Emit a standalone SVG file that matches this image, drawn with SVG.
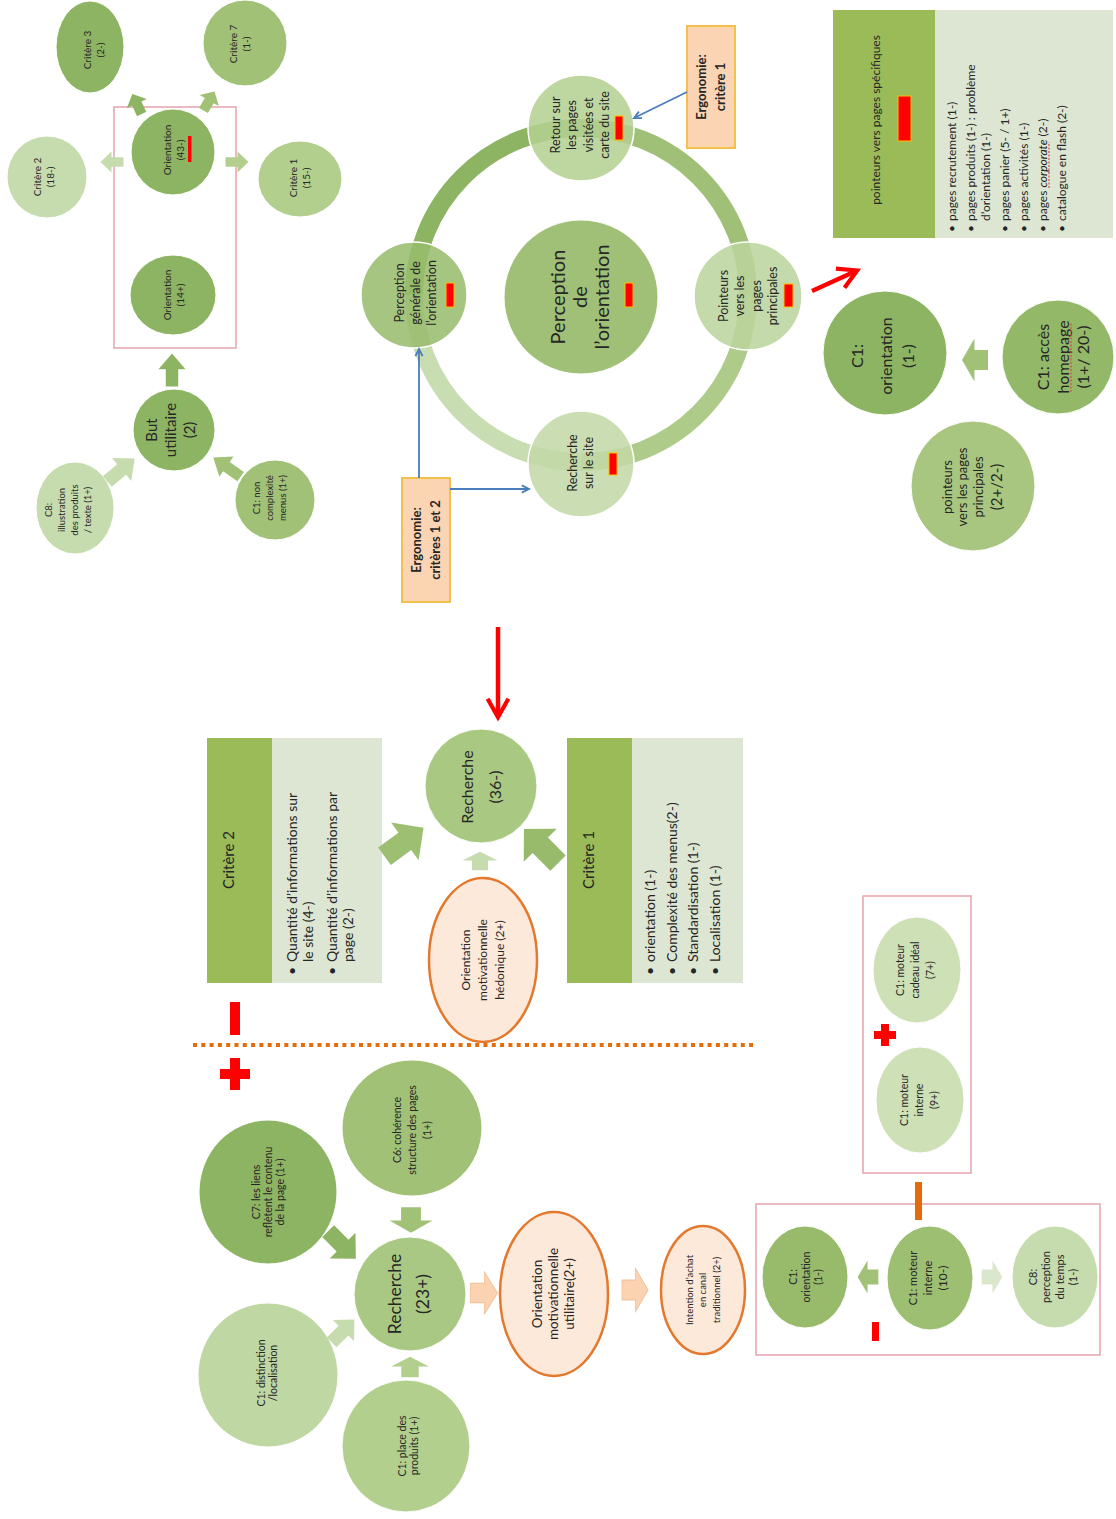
<svg xmlns="http://www.w3.org/2000/svg" width="1116" height="1519" viewBox="0 0 1116 1519">
<style>
.t{font-family:Lato,"Liberation Sans","DejaVu Sans",sans-serif;fill:#262626}
.b{font-weight:bold}
.dk{fill:#8db462}
.md{fill:#a0c176}
.lt{fill:#b3cf8e}
.pa{fill:#c7dcae}
.node{stroke:#ffffff;stroke-width:1}
.rn{stroke:#ffffff;stroke-width:1.5;fill-opacity:0.86}
.ring{fill:none;stroke-width:18}
.ergo{fill:#fbd4b4;stroke:#f3c04a;stroke-width:2}
.moti{fill:#fde9d9;stroke:#e3792f;stroke-width:2.5}
.hdr{fill:#9bbb59}
.lst{fill:#dde6d2}
.frame{fill:none;stroke:#e8a3ad;stroke-width:1.5}
.redbar{fill:#ff0000;stroke:#ffc000;stroke-width:1}
.red{fill:#ff0000}
.squig{stroke:#e04848;stroke-width:1.2;stroke-dasharray:2 1.5;fill:none}
.blue{stroke:#4a7ebb;stroke-width:1.8;fill:none}
.reda{stroke:#ff0000;stroke-width:4.5;fill:none}
.peach{fill:#fbd3b3;stroke:#f4c49b;stroke-width:0.8}
</style>
<defs>
<path id="ba" d="M-11.5,-6 H0.5 V-13 L11.5,0 L0.5,13 V6 H-11.5 Z"/>
<marker id="mb" viewBox="0 0 10 10" refX="9" refY="5" markerWidth="5" markerHeight="5" orient="auto" overflow="visible"><path d="M1,1 L9,5 L1,9" fill="none" stroke="#4a7ebb" stroke-width="2"/></marker>
<marker id="mr" viewBox="0 0 10 10" refX="8.5" refY="5" markerWidth="5.5" markerHeight="5.5" orient="auto" overflow="visible"><path d="M1.5,0.8 L9,5 L1.5,9.2" fill="none" stroke="#ff0000" stroke-width="1.7"/></marker>
</defs>
<rect width="1116" height="1519" fill="#ffffff"/>

<g id="ring">
<path class="ring" stroke="#8db462" d="M414,295 A167,167 0 0 1 581,128"/>
<path class="ring" stroke="#a0c077" d="M581,128 A167,167 0 0 1 748,295"/>
<path class="ring" stroke="#aecb8a" d="M748,295 A167,167 0 0 1 581,462"/>
<path class="ring" stroke="#c9ddb2" d="M581,462 A167,167 0 0 1 414,295"/>
</g>

<g id="frames">
<rect class="frame" x="114" y="107" width="122" height="241"/>
<rect class="frame" x="756" y="1204" width="344" height="151"/>
<rect class="frame" x="863" y="896" width="108" height="277"/>
</g>

<!-- top-left cluster -->
<g id="n-critere3"><ellipse class="dk node" cx="90" cy="47" rx="34" ry="46"/>
<text class="t" font-size="10" text-anchor="middle" transform="translate(94,50) rotate(-90)"><tspan x="0" y="-3">Critère 3</tspan><tspan x="0" y="10">(2-)</tspan></text></g>
<g id="n-critere7"><ellipse class="md node" cx="245" cy="43" rx="42" ry="43"/>
<text class="t" font-size="10" text-anchor="middle" transform="translate(240,44) rotate(-90)"><tspan x="0" y="-3">Critère 7</tspan><tspan x="0" y="10">(1-)</tspan></text></g>
<g id="n-critere2"><ellipse class="pa node" cx="47" cy="177" rx="40" ry="41"/>
<text class="t" font-size="10" text-anchor="middle" transform="translate(44,177) rotate(-90)"><tspan x="0" y="-3">Critère 2</tspan><tspan x="0" y="10">(18-)</tspan></text></g>
<g id="n-orient43"><ellipse class="dk node" cx="173" cy="152" rx="42" ry="43"/>
<text class="t" font-size="10" text-anchor="middle" transform="translate(174,150) rotate(-90)"><tspan x="0" y="-3">Orientation</tspan><tspan x="0" y="10">(43-)</tspan></text>
<rect class="red" x="188" y="136" width="3.5" height="26"/></g>
<g id="n-critere1"><ellipse class="lt node" cx="300" cy="179" rx="42" ry="38"/>
<text class="t" font-size="10" text-anchor="middle" transform="translate(300,178) rotate(-90)"><tspan x="0" y="-3">Critère 1</tspan><tspan x="0" y="10">(15-)</tspan></text></g>
<g id="n-orient14"><ellipse class="dk node" cx="173" cy="295" rx="43" ry="40"/>
<text class="t" font-size="10" text-anchor="middle" transform="translate(174,295) rotate(-90)"><tspan x="0" y="-3">Orientation</tspan><tspan x="0" y="10">(14+)</tspan></text></g>
<g id="n-but"><ellipse class="dk node" cx="174" cy="430" rx="41" ry="41"/>
<text class="t" font-size="15" text-anchor="middle" transform="translate(171,430) rotate(-90)"><tspan x="0" y="-13.75">But</tspan><tspan x="0" y="5.25">utilitaire</tspan><tspan x="0" y="24.25">(2)</tspan></text></g>
<g id="n-c8illu"><ellipse class="pa node" cx="75" cy="508" rx="39" ry="46"/>
<text class="t" font-size="9.5" text-anchor="middle" transform="translate(68,510) rotate(-90)"><tspan x="0" y="-16.2">C8:</tspan><tspan x="0" y="-3.2">illustration</tspan><tspan x="0" y="9.8">des produits</tspan><tspan x="0" y="22.8">/ texte (1+)</tspan></text></g>
<g id="n-c1menus"><ellipse class="md node" cx="275" cy="500" rx="40" ry="40"/>
<text class="t" font-size="9.5" text-anchor="middle" transform="translate(270,498) rotate(-90)"><tspan x="0" y="-9.7">C1: non</tspan><tspan x="0" y="3.3">complexité</tspan><tspan x="0" y="16.3">menus (1+)</tspan></text></g>

<!-- ring nodes -->
<g id="n-percgen"><circle class="rn" fill="#97bb6c" cx="414" cy="295" r="53"/>
<text class="t" font-size="12.5" text-anchor="middle" transform="translate(416,293) rotate(-90)"><tspan x="0" y="-11.6">Perception</tspan><tspan x="0" y="4.4">générale de</tspan><tspan x="0" y="20.4">l’orientation</tspan></text>
<rect class="redbar" x="446" y="283" width="8" height="24"/></g>
<g id="n-retour"><circle class="rn" fill="#b3cf90" cx="581" cy="128" r="53"/>
<text class="t" font-size="12.5" text-anchor="middle" transform="translate(580,125) rotate(-90)"><tspan x="0" y="-20.4">Retour sur</tspan><tspan x="0" y="-3.9">les pages</tspan><tspan x="0" y="12.6">visitées et</tspan><tspan x="0" y="29.1">carte du site</tspan></text>
<rect class="redbar" x="615" y="116" width="8" height="24"/></g>
<g id="n-pointeurs"><circle class="rn" fill="#bad49c" cx="748" cy="296" r="54"/>
<text class="t" font-size="12.5" text-anchor="middle" transform="translate(748,296) rotate(-90)"><tspan x="0" y="-20.4">Pointeurs</tspan><tspan x="0" y="-3.9">vers les</tspan><tspan x="0" y="12.6">pages</tspan><tspan x="0" y="29.1">principales</tspan></text>
<rect class="redbar" x="784" y="284" width="9" height="23"/></g>
<g id="n-rechsite"><circle class="rn" fill="#c3d9a6" cx="581" cy="464" r="53"/>
<text class="t" font-size="12.5" text-anchor="middle" transform="translate(581,463) rotate(-90)"><tspan x="0" y="-3.6">Recherche</tspan><tspan x="0" y="12.4">sur le site</tspan></text>
<rect class="redbar" x="609" y="453" width="8" height="22"/></g>
<g id="n-percorient"><circle class="node" fill="#9fc076" cx="581" cy="297" r="77"/>
<text class="t" font-size="20" text-anchor="middle" transform="translate(580,297) rotate(-90)"><tspan x="0" y="-15">Perception</tspan><tspan x="0" y="7">de</tspan><tspan x="0" y="29">l’orientation</tspan></text>
<rect class="redbar" x="625" y="283" width="8" height="24"/></g>

<g id="n-ergo1"><rect class="ergo" x="687" y="26" width="48" height="122"/>
<text class="t b" font-size="13" text-anchor="middle" transform="translate(711,87) rotate(-90)"><tspan x="0" y="-4.95">Ergonomie:</tspan><tspan x="0" y="14.05">critère 1</tspan></text></g>
<g id="n-ergo12"><rect class="ergo" x="402" y="478" width="48" height="124"/>
<text class="t b" font-size="13" text-anchor="middle" transform="translate(426,540) rotate(-90)"><tspan x="0" y="-4.95">Ergonomie:</tspan><tspan x="0" y="14.05">critères 1 et 2</tspan></text></g>

<!-- top right -->
<g id="n-pointspec"><rect class="hdr" x="833" y="10" width="102" height="228"/><rect class="lst" x="935" y="10" width="178" height="228"/>
<text class="t" font-size="12" text-anchor="middle" transform="translate(876,120) rotate(-90)"><tspan x="0" y="4.2">pointeurs vers pages spécifiques</tspan></text>
<rect class="redbar" x="898" y="96" width="13" height="45"/>
<g class="t" font-size="12" transform="translate(952,221) rotate(-90)">
<text x="-11" y="4.2">•</text><text x="0" y="4.2">pages recrutement  (1-)</text>
<text x="-11" y="23.2">•</text><text x="0" y="23.2">pages produits  (1-) : problème</text>
<text x="0" y="38.2">d’orientation (1-)</text>
<text x="-11" y="57.2">•</text><text x="0" y="57.2">pages panier (5- / 1+)</text>
<text x="-11" y="76.2">•</text><text x="0" y="76.2">pages activités  (1-)</text>
<text x="-11" y="95.2">•</text><text x="0" y="95.2">pages <tspan font-style="italic">corporate</tspan> (2-)</text>
<text x="-11" y="114.2">•</text><text x="0" y="114.2">catalogue en flash (2-)</text>
</g>
<line class="squig" x1="1049" y1="188" x2="1049" y2="142"/></g>
<g id="n-c1orient"><ellipse class="dk node" cx="885" cy="353" rx="62" ry="62"/>
<text class="t" font-size="16" text-anchor="middle" transform="translate(884,356) rotate(-90)"><tspan x="0" y="-21.4">C1:</tspan><tspan x="0" y="7.6">orientation</tspan><tspan x="0" y="29.6">(1-)</tspan></text></g>
<g id="n-c1home"><ellipse class="node" fill="#92b868" cx="1058" cy="357" rx="56" ry="57"/>
<text class="t" font-size="16" text-anchor="middle" transform="translate(1063,357) rotate(-90)"><tspan x="0" y="-14.4">C1: accès</tspan><tspan x="0" y="5.6">homepage</tspan><tspan x="0" y="25.6">(1+/ 20-)</tspan></text>
<line class="squig" x1="1071" y1="392" x2="1071" y2="322"/></g>
<g id="n-pointprinc"><ellipse class="node" fill="#a8c680" cx="973" cy="486" rx="62" ry="65"/>
<text class="t" font-size="13" text-anchor="middle" transform="translate(972,487) rotate(-90)"><tspan x="0" y="-20.5">pointeurs</tspan><tspan x="0" y="-5.5">vers les pages</tspan><tspan x="0" y="10.5">principales</tspan><tspan x="0" y="30.3" font-size="15">(2+/2-)</tspan></text></g>

<!-- middle -->
<g id="n-crit2box"><rect class="hdr" x="207" y="738" width="65" height="245"/><rect class="lst" x="272" y="738" width="110" height="245"/>
<text class="t" font-size="15" text-anchor="middle" transform="translate(229,860) rotate(-90)"><tspan x="0" y="5.25">Critère 2</tspan></text>
<g class="t" font-size="14" transform="translate(292,962) rotate(-90)">
<text x="-13" y="4.9">•</text><text x="0" y="4.9">Quantité d’informations  sur</text>
<text x="0" y="20.9">le site  (4-)</text>
<text x="-13" y="44.9">•</text><text x="0" y="44.9">Quantité d’informations par</text>
<text x="0" y="60.9">page (2-)</text>
</g></g>
<g id="n-crit1box"><rect class="hdr" x="567" y="738" width="65" height="245"/><rect class="lst" x="632" y="738" width="111" height="245"/>
<text class="t" font-size="15" text-anchor="middle" transform="translate(589,860) rotate(-90)"><tspan x="0" y="5.25">Critère 1</tspan></text>
<g class="t" font-size="14" transform="translate(650,962) rotate(-90)">
<text x="-13" y="4.9">•</text><text x="0" y="4.9">orientation (1-)</text>
<text x="-13" y="26.9">•</text><text x="0" y="26.9">Complexité des menus(2-)</text>
<text x="-13" y="47.9">•</text><text x="0" y="47.9">Standardisation (1-)</text>
<text x="-13" y="69.9">•</text><text x="0" y="69.9">Localisation (1-)</text>
</g></g>
<g id="n-rech36"><ellipse class="node" fill="#a9c882" cx="481" cy="786" rx="56" ry="57"/>
<text class="t" font-size="16" text-anchor="middle" transform="translate(481,787) rotate(-90)"><tspan x="0" y="-8.4">Recherche</tspan><tspan x="0" y="19.6">(36-)</tspan></text></g>
<g id="n-hedo"><ellipse class="moti" cx="483" cy="960" rx="54" ry="82"/>
<text class="t" font-size="12" text-anchor="middle" transform="translate(483,960) rotate(-90)"><tspan x="0" y="-12.8">Orientation</tspan><tspan x="0" y="4.2">motivationnelle</tspan><tspan x="0" y="21.2">hédonique  (2+)</tspan></text></g>
<g id="signs">
<rect class="red" x="230" y="1002" width="10" height="33"/>
<line x1="193" y1="1045" x2="753" y2="1045" stroke="#e46c0a" stroke-width="4" stroke-dasharray="4 4.3"/>
<rect class="red" x="230" y="1058" width="10" height="32"/><rect class="red" x="220" y="1069" width="30" height="10"/>
<rect class="red" x="881" y="1024" width="8" height="22"/><rect class="red" x="874" y="1031" width="22" height="8"/>
<rect fill="#e36c09" x="915" y="1182" width="7" height="38"/>
<rect class="red" x="872" y="1322" width="7" height="19"/>
</g>

<!-- bottom -->
<g id="n-c7"><ellipse class="dk node" cx="268" cy="1192" rx="69" ry="72"/>
<text class="t" font-size="10.5" text-anchor="middle" transform="translate(268,1192) rotate(-90)"><tspan x="0" y="-8.3">C7: les liens</tspan><tspan x="0" y="3.7">reflètent le contenu</tspan><tspan x="0" y="15.7">de la page (1+)</tspan></text></g>
<g id="n-c6"><ellipse class="md node" cx="412" cy="1128" rx="70" ry="68"/>
<text class="t" font-size="10.5" text-anchor="middle" transform="translate(412,1130) rotate(-90)"><tspan x="0" y="-11.3">C6: cohérence</tspan><tspan x="0" y="3.7">structure des pages</tspan><tspan x="0" y="18.7">(1+)</tspan></text></g>
<g id="n-rech23"><ellipse class="node" fill="#a9c883" cx="410" cy="1294" rx="56" ry="57"/>
<text class="t" font-size="17.5" text-anchor="middle" transform="translate(409,1294) rotate(-90)"><tspan x="0" y="-7.9">Recherche</tspan><tspan x="0" y="20.1">(23+)</tspan></text></g>
<g id="n-c1dist"><ellipse class="node" fill="#bfd7a3" cx="268" cy="1375" rx="70" ry="72"/>
<text class="t" font-size="10.5" text-anchor="middle" transform="translate(267,1373) rotate(-90)"><tspan x="0" y="-2.3">C1: distinction</tspan><tspan x="0" y="9.7">/localisation</tspan></text></g>
<g id="n-c1place"><ellipse class="lt node" cx="406" cy="1446" rx="64" ry="66"/>
<text class="t" font-size="10.5" text-anchor="middle" transform="translate(408,1446) rotate(-90)"><tspan x="0" y="-2.3">C1: place des</tspan><tspan x="0" y="9.7">produits (1+)</tspan></text></g>
<g id="n-util"><ellipse class="moti" cx="554" cy="1294" rx="54" ry="82"/>
<text class="t" font-size="13.5" text-anchor="middle" transform="translate(553,1294) rotate(-90)"><tspan x="0" y="-11.3">Orientation</tspan><tspan x="0" y="4.7">motivationnelle</tspan><tspan x="0" y="20.7">utilitaire(2+)</tspan></text></g>
<g id="n-intention"><ellipse class="moti" cx="703" cy="1290" rx="42" ry="64"/>
<text class="t" font-size="9.5" text-anchor="middle" transform="translate(703,1290) rotate(-90)"><tspan x="0" y="-10.2">Intention d’achat</tspan><tspan x="0" y="3.3">en canal</tspan><tspan x="0" y="16.8">traditionnel (2+)</tspan></text></g>
<g id="n-c1orient2"><ellipse class="node" fill="#97ba6b" cx="805" cy="1277" rx="43" ry="51"/>
<text class="t" font-size="10.5" text-anchor="middle" transform="translate(806,1277) rotate(-90)"><tspan x="0" y="-8.8">C1:</tspan><tspan x="0" y="3.7">orientation</tspan><tspan x="0" y="16.2">(1-)</tspan></text></g>
<g id="n-moteur10"><ellipse class="node" fill="#9dbf72" cx="930" cy="1278" rx="43" ry="52"/>
<text class="t" font-size="11" text-anchor="middle" transform="translate(928,1278) rotate(-90)"><tspan x="0" y="-11.15">C1: moteur</tspan><tspan x="0" y="3.85">interne</tspan><tspan x="0" y="18.85" font-size="12">(10-)</tspan></text></g>
<g id="n-c8temps"><ellipse class="pa node" cx="1055" cy="1277" rx="43" ry="51"/>
<text class="t" font-size="11" text-anchor="middle" transform="translate(1053,1277) rotate(-90)"><tspan x="0" y="-16.4">C8:</tspan><tspan x="0" y="-2.9">perception</tspan><tspan x="0" y="10.6">du temps</tspan><tspan x="0" y="24.1">(1-)</tspan></text></g>
<g id="n-cadeau"><ellipse class="node" fill="#cde0b6" cx="917" cy="970" rx="44" ry="53"/>
<text class="t" font-size="10.5" text-anchor="middle" transform="translate(915,970) rotate(-90)"><tspan x="0" y="-11.3">C1: moteur</tspan><tspan x="0" y="3.7">cadeau idéal</tspan><tspan x="0" y="18.7">(7+)</tspan></text></g>
<g id="n-moteur9"><ellipse class="node" fill="#cde0b6" cx="920" cy="1100" rx="44" ry="53"/>
<text class="t" font-size="10.5" text-anchor="middle" transform="translate(919,1100) rotate(-90)"><tspan x="0" y="-11.3">C1: moteur</tspan><tspan x="0" y="3.7">interne</tspan><tspan x="0" y="18.7">(9+)</tspan></text></g>

<g id="connectors">
<use href="#ba" class="dk" transform="translate(137,104) rotate(-115) scale(0.96,0.85)"/>
<use href="#ba" class="md" transform="translate(209,101) rotate(-60) scale(0.96,0.85)"/>
<use href="#ba" class="pa" transform="translate(112,162) rotate(180) scale(1,0.8)"/>
<use href="#ba" class="lt" transform="translate(237,162) scale(1,0.8)"/>
<use href="#ba" class="dk" transform="translate(172,370) rotate(-90) scale(1.43,1.04)"/>
<use href="#ba" class="pa" transform="translate(121,470) rotate(-40) scale(1.55,1.15)"/>
<use href="#ba" class="md" transform="translate(227,467) rotate(-145) scale(1.45,0.95)"/>
<use href="#ba" class="md" transform="translate(975,360) rotate(180) scale(1.13,1.65)"/>
<use href="#ba" fill="#9dbf72" transform="translate(404,842) rotate(-36) scale(2.1,1.8)"/>
<use href="#ba" fill="#97ba6b" transform="translate(541,846) rotate(-135) scale(2.1,1.8)"/>
<use href="#ba" class="pa" transform="translate(480,861) rotate(-90) scale(0.8,1.35)"/>
<use href="#ba" class="md" transform="translate(411,1220) rotate(90) scale(1.1,1.65)"/>
<use href="#ba" class="dk" transform="translate(342,1245) rotate(45) scale(1.7,1.4)"/>
<use href="#ba" class="pa" transform="translate(343,1331) rotate(-45) scale(1.4,1.15)"/>
<use href="#ba" class="lt" transform="translate(410,1367) rotate(-90) scale(0.9,1.45)"/>
<use href="#ba" class="peach" transform="translate(484,1293) scale(1.17,1.6)"/>
<use href="#ba" class="peach" transform="translate(635,1290) scale(1.13,1.65)"/>
<use href="#ba" class="md" transform="translate(868,1277) rotate(180) scale(0.9,1.27)"/>
<use href="#ba" fill="#dbe7cd" transform="translate(992,1277) scale(0.9,1.27)"/>
<path class="blue" d="M687,92 L634,118" marker-end="url(#mb)"/>
<path class="blue" d="M419,478 L419,349" marker-end="url(#mb)"/>
<path class="blue" d="M450,489 L529,489" marker-end="url(#mb)"/>
<path class="reda" d="M498,627 L498,716" marker-end="url(#mr)"/>
<path class="reda" d="M812,291 L856,271" marker-end="url(#mr)"/>
</g>
</svg>
